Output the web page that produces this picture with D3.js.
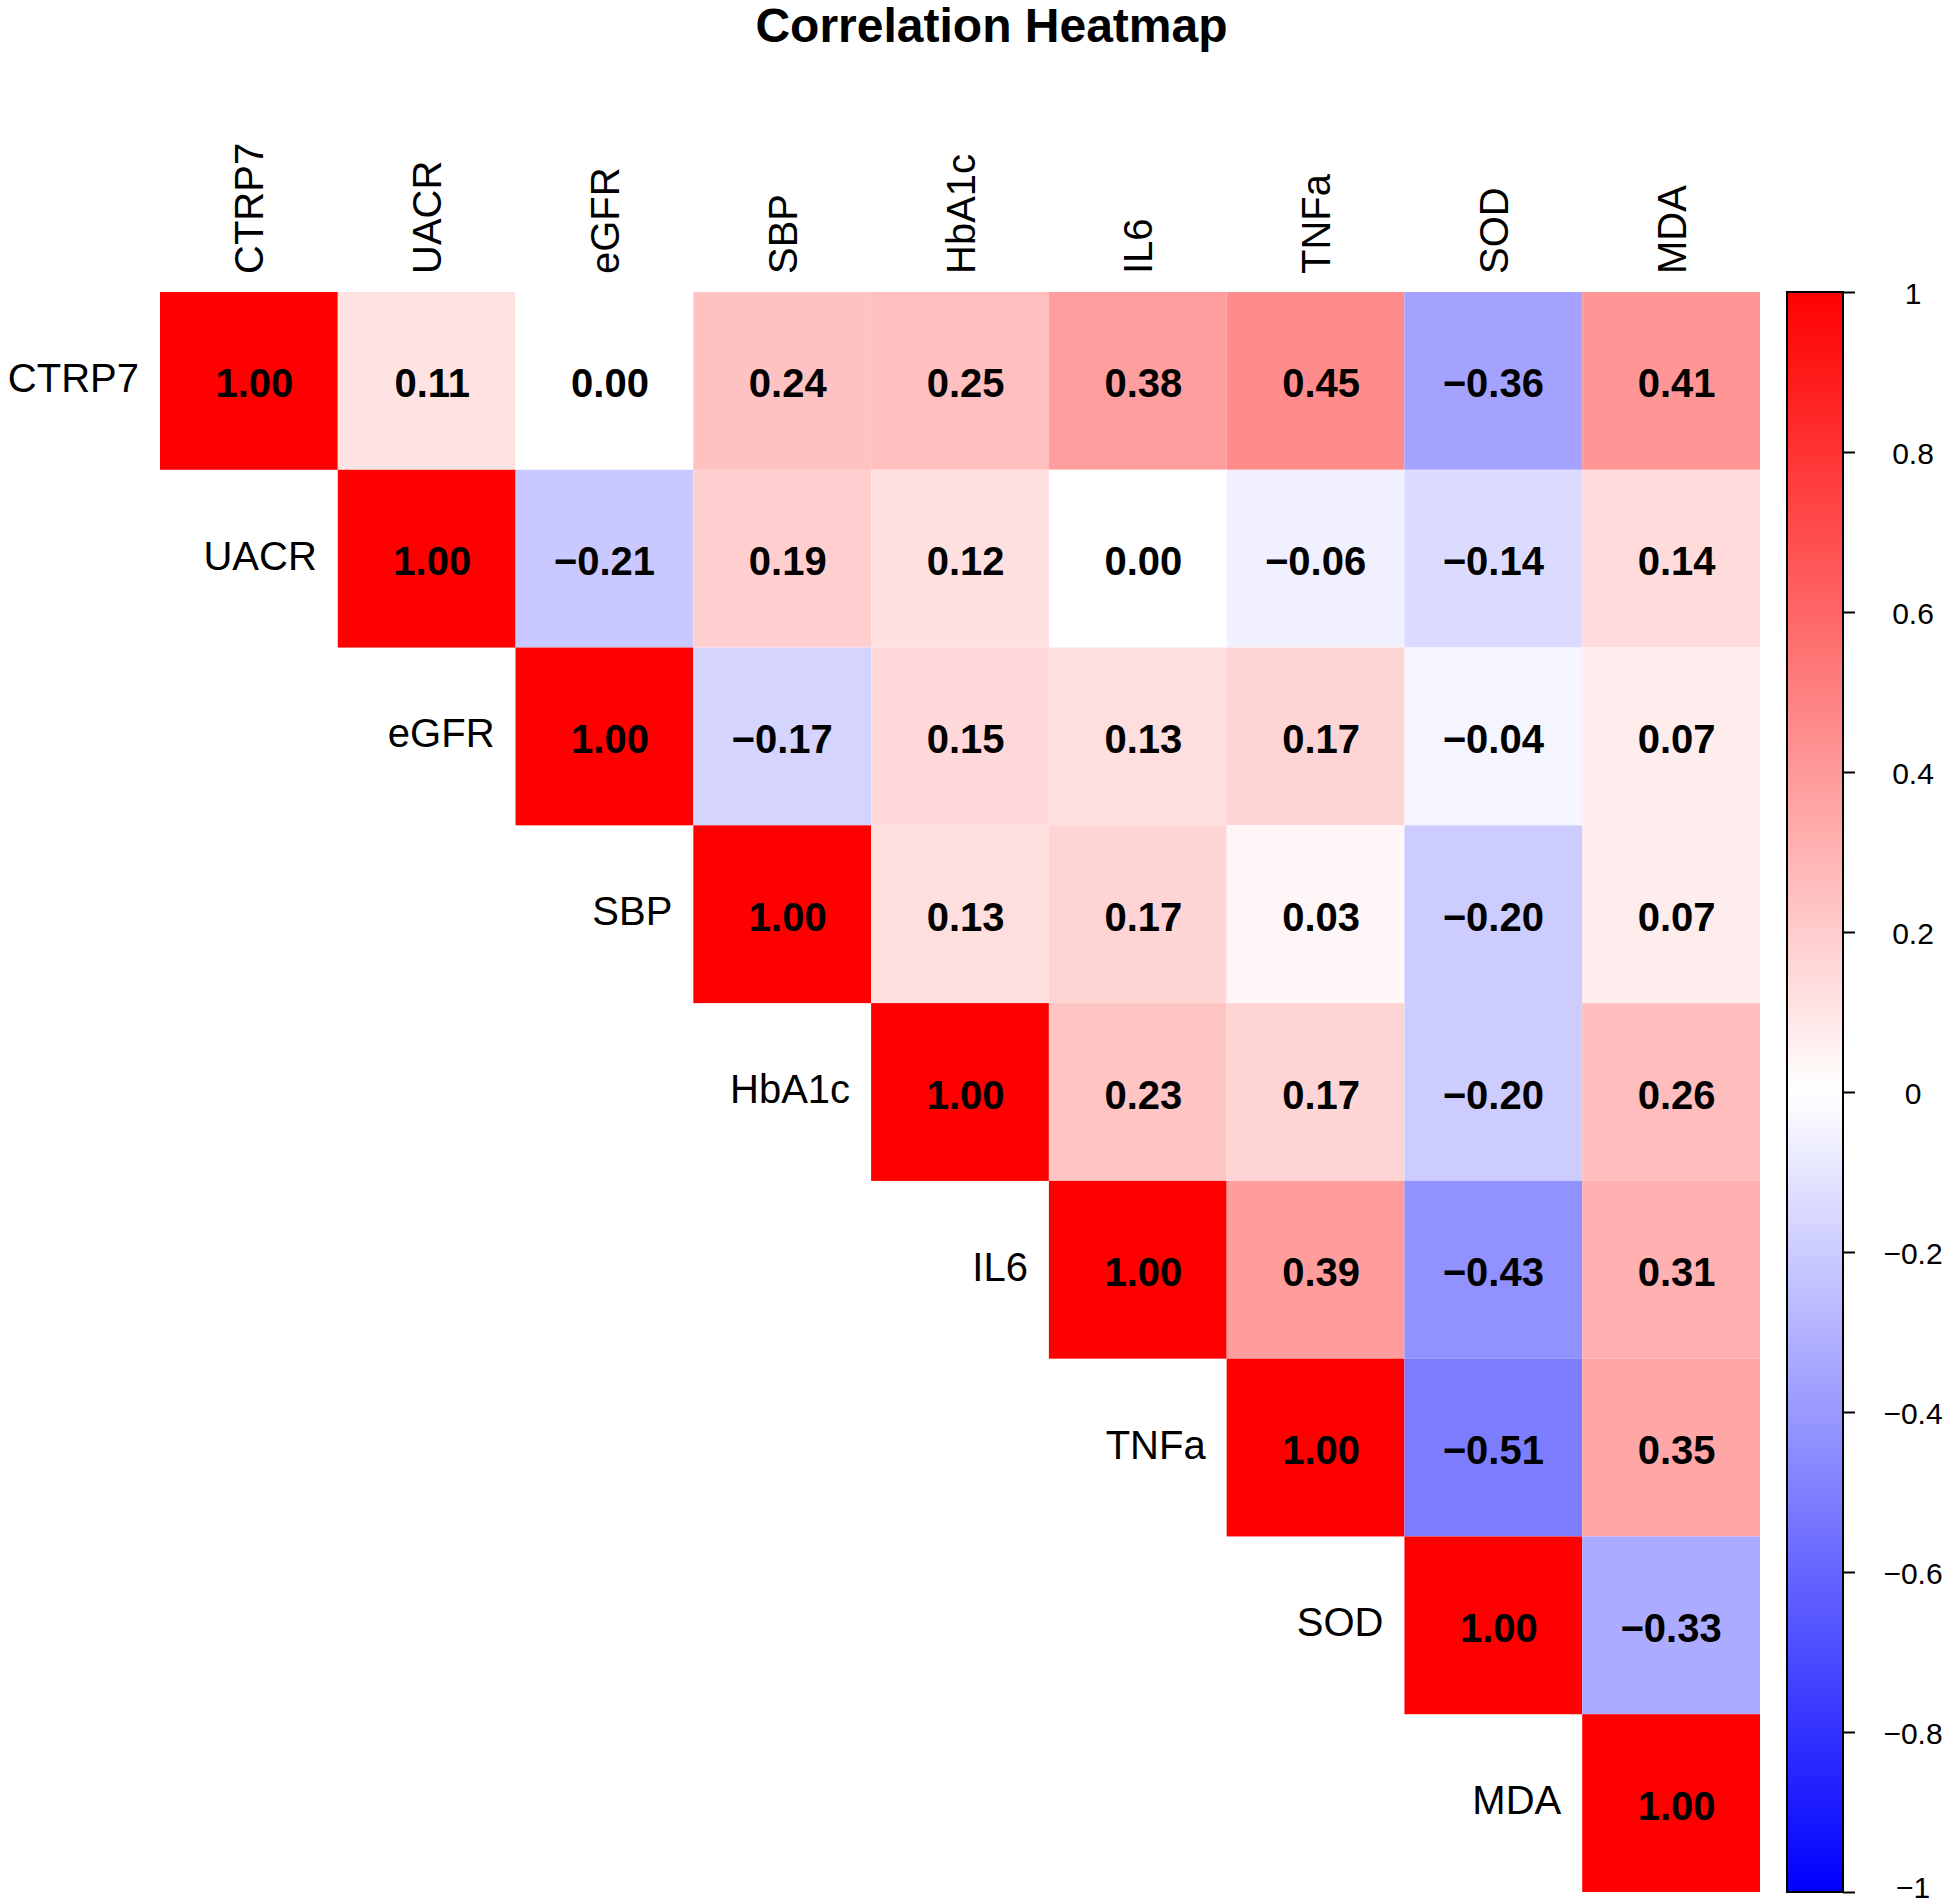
<!DOCTYPE html>
<html>
<head>
<meta charset="utf-8">
<script src="https://cdn.jsdelivr.net/npm/d3@7"></script>
<style>
  html, body { margin: 0; padding: 0; background: #fff; }
  svg { display: block; }
  text { font-family: "Liberation Sans", Arial, Helvetica, sans-serif; }
</style>
</head>
<body>
<svg id="chart" width="1952" height="1904"></svg>
<script>
// ---- data ----
const variables = ["CTRP7", "UACR", "eGFR", "SBP", "HbA1c", "IL6", "TNFa", "SOD", "MDA"];
// upper-triangle rows (row i starts at column i)
const rowCTRP7 = [1.00, 0.11, 0.00, 0.24, 0.25, 0.38, 0.45, -0.36, 0.41];
const rowUACR  = [1.00, -0.21, 0.19, 0.12, 0.00, -0.06, -0.14, 0.14];
const rowEGFR  = [1.00, -0.17, 0.15, 0.13, 0.17, -0.04, 0.07];
const rowSBP   = [1.00, 0.13, 0.17, 0.03, -0.20, 0.07];
const rowHbA1c = [1.00, 0.23, 0.17, -0.20, 0.26];
const rowIL6   = [1.00, 0.39, -0.43, 0.31];
const rowTNFa  = [1.00, -0.51, 0.35];
const rowSOD   = [1.00, -0.33];
const rowMDA   = [1.00];
const colorbarTicks = [-1, -0.8, -0.6, -0.4, -0.2, 0, 0.2, 0.4, 0.6, 0.8, 1];
const titleText = "Correlation Heatmap";

// ---- build cells ----
const rows = [rowCTRP7, rowUACR, rowEGFR, rowSBP, rowHbA1c, rowIL6, rowTNFa, rowSOD, rowMDA];
const cells = [];
rows.forEach((r, i) => r.forEach((v, k) => {
  cells.push({ row: variables[i], col: variables[i + k], value: v });
}));

const svg = d3.select("#chart");

const x = d3.scaleBand().domain(variables).range([160, 1760]);
const y = d3.scaleBand().domain(variables).range([292, 1892]);
const color = d3.scaleLinear().domain([-1, 0, 1]).range(["#0000ff", "#ffffff", "#ff0000"]);

// title
svg.append("text")
  .attr("x", 991.5).attr("y", 42)
  .attr("text-anchor", "middle")
  .attr("font-size", 48).attr("font-weight", "bold")
  .text(titleText);

// cells
svg.append("g").selectAll("rect").data(cells).join("rect")
  .attr("x", d => x(d.col))
  .attr("y", d => y(d.row))
  .attr("width", x.bandwidth())
  .attr("height", y.bandwidth())
  .attr("fill", d => color(d.value));

// values
const fmt = d3.format(".2f");
svg.append("g").selectAll("text").data(cells).join("text")
  .attr("x", d => x(d.col) + x.bandwidth() / 2)
  .attr("y", d => y(d.row) + y.bandwidth() / 2 + 16.5)
  .attr("text-anchor", "middle")
  .attr("font-size", 40).attr("font-weight", "bold")
  .style("white-space", "pre")
  .text(d => (d.value >= 0 ? " " : "") + fmt(d.value));

// column labels (top, rotated)
svg.append("g").selectAll("text").data(variables).join("text")
  .attr("transform", d => `translate(${x(d) + x.bandwidth() / 2 + 14.5},274) rotate(-90)`)
  .attr("text-anchor", "start")
  .attr("font-size", 40)
  .text(d => d);

// row labels (along the diagonal)
svg.append("g").selectAll("text").data(variables).join("text")
  .attr("x", d => x(d) - 21)
  .attr("y", d => y(d) + y.bandwidth() / 2 + 11)
  .attr("text-anchor", "end")
  .attr("font-size", 40)
  .text(d => d);

// colorbar
const cbX = 1787, cbW = 56;
const cbScale = d3.scaleLinear().domain([-1, 1]).range([1892, 292]);
const defs = svg.append("defs");
const grad = defs.append("linearGradient").attr("id", "cbgrad")
  .attr("x1", 0).attr("y1", 1).attr("x2", 0).attr("y2", 0);
d3.range(-1, 1.0001, 0.05).forEach(v => {
  grad.append("stop").attr("offset", (v + 1) / 2).attr("stop-color", color(v));
});
svg.append("rect")
  .attr("x", cbX).attr("y", cbScale(1))
  .attr("width", cbW).attr("height", cbScale(-1) - cbScale(1))
  .attr("fill", "url(#cbgrad)")
  .attr("stroke", "#000").attr("stroke-width", 2);

const cbAxis = d3.axisRight(cbScale)
  .tickValues(colorbarTicks)
  .tickSize(12)
  .tickPadding(0)
  .tickFormat(d3.format("~g"));
const axG = svg.append("g").attr("transform", `translate(${cbX + cbW},0)`).call(cbAxis);
axG.select(".domain").remove();
axG.selectAll(".tick line").attr("stroke", "#000").attr("stroke-width", 2);
axG.selectAll(".tick text")
  .attr("x", 70)
  .attr("dy", null)
  .attr("y", d => d === -1 ? 5 : 11)
  .attr("text-anchor", "middle")
  .attr("font-size", 30)
  .attr("font-family", "Liberation Sans, Arial, Helvetica, sans-serif")
  .attr("fill", "#000");
</script>
</body>
</html>
